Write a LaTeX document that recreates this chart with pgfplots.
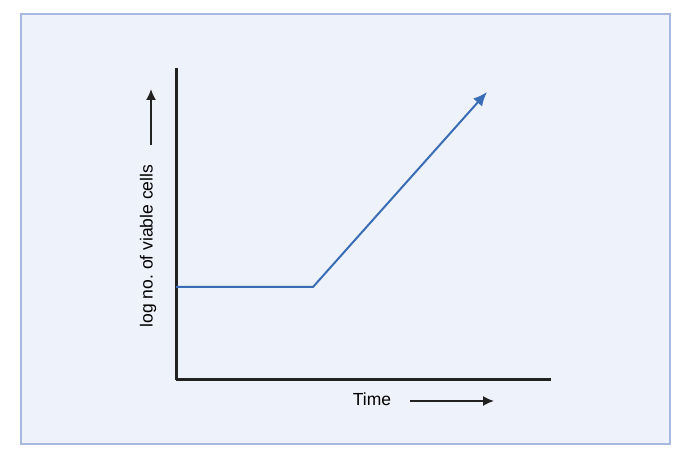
\documentclass[border=0pt]{standalone}
\usepackage{pgfplots}
\pgfplotsset{compat=1.18}
\usepackage{fontspec}
\setmainfont{Liberation Sans}
\usetikzlibrary{arrows.meta}

\definecolor{panelfill}{HTML}{EEF2FA}
\definecolor{paneledge}{HTML}{A9B8E0}
\definecolor{growth}{HTML}{3A6DB5}
\definecolor{axisdark}{HTML}{222222}

\begin{document}
\begin{tikzpicture}[x=1pt,y=1pt]
% page bounds and panel (axis box lower left sits at the origin)
\fill[white] (-176,-82) rectangle (516,380);
\draw[paneledge, fill=panelfill, line width=1.2pt] (-155,-64) rectangle (494,366);
\begin{axis}[
  at={(0,0)}, anchor=south west,
  scale only axis, width=375pt, height=312pt,
  xmin=0, xmax=375, ymin=0, ymax=312,
  axis lines=left,
  axis line style={-, line width=3pt, axisdark},
  ticks=none,
  clip=false,
]
\addplot[growth, line width=2pt, -{Latex[length=14pt,width=12pt]}] coordinates {
  (0,93) (137,93) (311,288)
};
% axis captions with their direction arrows
\node[rotate=90, font=\fontsize{17.5}{20}\selectfont] at (axis cs:-28,134) {log no.\ of viable cells};
\draw[axisdark, line width=1.6pt, -{Latex[length=11pt,width=10pt]}] (axis cs:-25,235) -- (axis cs:-25,291);
\node[font=\fontsize{17.5}{20}\selectfont] at (axis cs:196,-19) {Time};
\draw[axisdark, line width=1.6pt, -{Latex[length=11pt,width=10pt]}] (axis cs:234,-21) -- (axis cs:318,-21);
\end{axis}
\end{tikzpicture}
\end{document}
